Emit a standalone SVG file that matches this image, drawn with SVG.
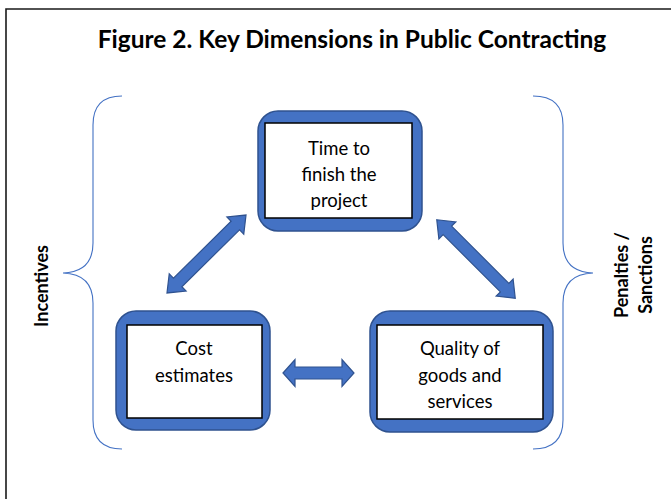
<svg xmlns="http://www.w3.org/2000/svg" width="671" height="499" viewBox="0 0 671 499">
  <style>
    .frame { fill: none; stroke: #1a1a1a; stroke-width: 1.6; }
    .title { font-family: Lato, "Liberation Sans", sans-serif; font-weight: bold; font-size: 24.5px; fill: #000; }
    .outer { fill: #4472C4; stroke: #2F528F; stroke-width: 1.5; }
    .inner { fill: #fff; stroke: #000; stroke-width: 1.5; }
    .label { font-family: Lato, "Liberation Sans", sans-serif; font-size: 18.5px; fill: #000; text-anchor: middle; }
    .side { font-family: Lato, "Liberation Sans", sans-serif; font-weight: bold; font-size: 18px; fill: #000; text-anchor: middle; }
    .arrow { fill: #4472C4; stroke: #2F528F; stroke-width: 1.2; stroke-linejoin: miter; }
    .brace { fill: none; stroke: #4472C4; stroke-width: 1.1; }
  </style>

  <rect width="671" height="499" fill="#fff"/>
  <!-- figure frame, open on the right and bottom -->
  <path class="frame" d="M6,499 V9 H671"/>

  <text class="title" x="352" y="48" text-anchor="middle">Figure 2. Key Dimensions in Public Contracting</text>

  <!-- side braces -->
  <g id="brace-left">
    <path class="brace" d="M122,96 Q93,96 93,125 V243 Q93,272 63,273 Q93,274 93,303 V420 Q93,449 122,449"/>
    <text class="side" transform="translate(48,286) rotate(-90)">Incentives</text>
  </g>
  <g id="brace-right">
    <path class="brace" d="M533,96 Q563,96 563,125 V243 Q563,272 593,273 Q563,274 563,303 V420 Q563,449 533,449"/>
    <text class="side" transform="translate(628,275) rotate(-90)">Penalties /</text>
    <text class="side" transform="translate(652,275) rotate(-90)">Sanctions</text>
  </g>

  <!-- connectors: two-headed block arrows -->
  <g id="connectors">
    <polygon class="arrow" transform="translate(206.5,254) rotate(-44.6)"
      points="-55.5,0 -40.5,-12 -40.5,-6 40.5,-6 40.5,-12 55.5,0 40.5,12 40.5,6 -40.5,6 -40.5,12"/>
    <polygon class="arrow" transform="translate(476,259) rotate(45)"
      points="-55.5,0 -40.5,-12 -40.5,-6 40.5,-6 40.5,-12 55.5,0 40.5,12 40.5,6 -40.5,6 -40.5,12"/>
    <polygon class="arrow" transform="translate(318.5,373)"
      points="-35.5,0 -23.5,-13.5 -23.5,-6 23.5,-6 23.5,-13.5 35.5,0 23.5,13.5 23.5,6 -23.5,6 -23.5,13.5"/>
  </g>

  <g id="node-time">
    <rect class="outer" x="258" y="111" width="164" height="120" rx="20"/>
    <rect class="inner" x="265" y="123" width="147" height="95"/>
    <text class="label" x="339" y="155">Time to</text>
    <text class="label" x="339" y="181">finish the</text>
    <text class="label" x="339" y="207">project</text>
  </g>

  <g id="node-cost">
    <rect class="outer" x="116" y="311" width="154" height="119" rx="20"/>
    <rect class="inner" x="127" y="325" width="135" height="93"/>
    <text class="label" x="194" y="355">Cost</text>
    <text class="label" x="194" y="382">estimates</text>
  </g>

  <g id="node-quality">
    <rect class="outer" x="370" y="311" width="183" height="121" rx="20"/>
    <rect class="inner" x="377" y="325" width="166" height="94"/>
    <text class="label" x="460" y="355">Quality of</text>
    <text class="label" x="460" y="382">goods and</text>
    <text class="label" x="460" y="408">services</text>
  </g>
</svg>
